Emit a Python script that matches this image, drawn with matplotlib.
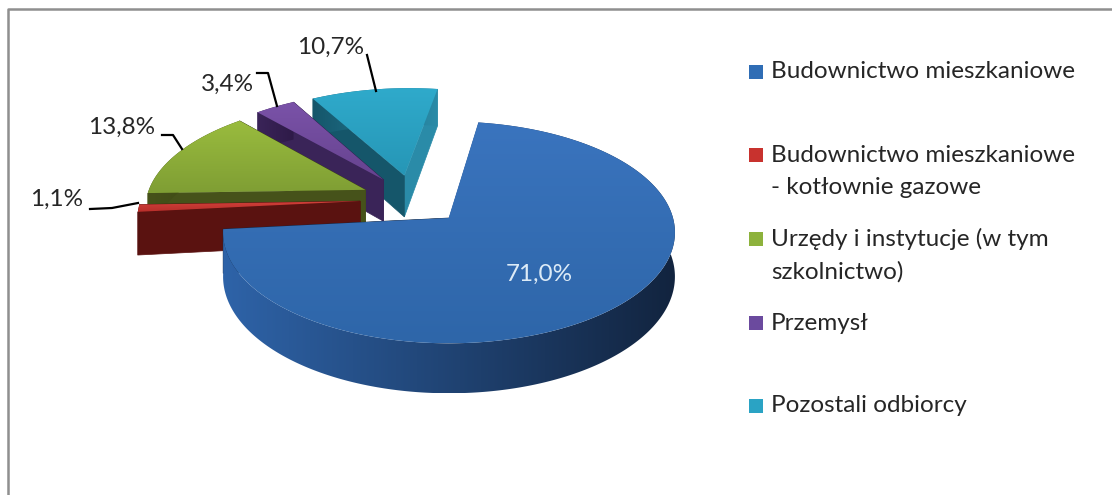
import numpy as np
import matplotlib
matplotlib.use("Agg")
import matplotlib.pyplot as plt
from matplotlib.colors import to_rgb
from matplotlib.patches import Polygon

categories = ["Budownictwo mieszkaniowe", "Budownictwo mieszkaniowe\n- kotłownie gazowe",
              "Urzędy i instytucje (w tym\nszkolnictwo)", "Przemysł", "Pozostali odbiorcy"]
values = [71.0, 1.1, 13.8, 3.4, 10.7]
value_labels = ["71,0%", "1,1%", "13,8%", "3,4%", "10,7%"]

top_light = ["#3A74BE", "#D0403A", "#9ABC3E", "#7A52A8", "#2FAACB"]
top_dark = ["#2E66A9", "#B82E2A", "#7F9E34", "#66438F", "#2696B6"]
side_light = ["#2E63A8", "#5A1210", "#46521A", "#3A2458", "#15566A"]
side_dark = ["#12243F", "#4A0F0D", "#3A4412", "#2E1A48", "#2A8BA8"]
legend_colors = ["#2F6DB5", "#C8322E", "#8DB23C", "#6B4A9E", "#2AA3C4"]

# pie geometry in pixels
CX, CY = 449, 218
RX, RY = 224, 109
PERSP = 0.13
DEPTH = 43.5
START = 8.6
EXPLODE = 0.24


def project(u, v, drop=0.0):
    s = 1 / (1 + PERSP * v)
    return CX + RX * u * s, CY - RY * v * s + drop * s


def gradient_fill(pts, c0, c1, order, axis=0):
    # polygon filled with a linear gradient, axis 0 is down, axis 1 is across
    patch = Polygon(pts, closed=True, fc="none", ec="none", zorder=order)
    ax.add_patch(patch)
    c0, c1 = np.array(to_rgb(c0)), np.array(to_rgb(c1))
    ramp = np.linspace(0, 1, 128)[:, None]
    grad = (c0 + (c1 - c0) * ramp)[:, None, :]
    if axis == 1:
        grad = grad.transpose(1, 0, 2)
    xs, ys = pts[:, 0], pts[:, 1]
    im = ax.imshow(grad, extent=(xs.min(), xs.max(), ys.max(), ys.min()), aspect="auto",
                   zorder=order, interpolation="bilinear")
    im.set_clip_path(patch)


fig = plt.figure(figsize=(11.12, 4.95), dpi=100)
ax = fig.add_axes([0, 0, 1, 1])
plt.rcParams["font.family"] = ["Lato", "DejaVu Sans"]

# chart frame
ax.plot([8, 8, 1112], [495, 9, 9], color="#8F8F8F", lw=1.8, zorder=1)

# slice angles come from the values
edges = START + np.cumsum([0] + values) * 3.6
mids = (edges[:-1] + edges[1:]) / 2
dir_u = np.sin(np.radians(mids))
dir_v = np.cos(np.radians(mids))
apex_u = EXPLODE * (dir_u - dir_u[0])
apex_v = EXPLODE * (dir_v - dir_v[0])

# back slices first, the big one last
for order, i in zip([10, 20, 30, 40, 50], [4, 3, 2, 1, 0]):
    t = np.radians(np.linspace(edges[i], edges[i + 1], max(int(values[i] * 6), 12)))
    u = apex_u[i] + np.sin(t)
    v = apex_v[i] + np.cos(t)

    # radial faces, the right cut first
    for j in (-1, 0):
        x0, y0 = project(apex_u[i], apex_v[i])
        x1, y1 = project(u[j], v[j])
        x2, y2 = project(u[j], v[j], DEPTH)
        x3, y3 = project(apex_u[i], apex_v[i], DEPTH)
        color = side_dark[i] if j == -1 else side_light[i]
        ax.add_patch(Polygon([(x0, y0), (x1, y1), (x2, y2), (x3, y3)], closed=True,
                             fc=color, ec=color, lw=0.5, zorder=order))

    # outer rim, shaded from left to right
    xa, ya = project(u, v)
    xb, yb = project(u, v, DEPTH)
    rim = np.c_[np.r_[xa, xb[::-1]], np.r_[ya, yb[::-1]]]
    gradient_fill(rim, side_light[i], side_dark[i], order + 1, axis=1)

    # top surface with a soft vertical gradient
    xs, ys = project(np.r_[apex_u[i], u], np.r_[apex_v[i], v])
    gradient_fill(np.c_[xs, ys], top_light[i], top_dark[i], order + 2)

ax.set_xlim(0, 1112)
ax.set_ylim(495, 0)
ax.axis("off")

# value labels and leader lines
label_xy = [(539, 274), (57, 199), (122, 127), (227, 84), (331, 47)]
leaders = [None,
           [(90, 209), (112, 208), (138, 203)],
           [(162, 135), (173, 135), (182, 149)],
           [(257, 73), (268, 73), (277, 106)],
           [(367, 55), (376, 91)]]
for i, lab in enumerate(value_labels):
    col = "#DCEBF7" if i == 0 else "#262626"
    ax.text(label_xy[i][0], label_xy[i][1], lab, fontsize=17.5, color=col,
            ha="center", va="center", zorder=70)
    if leaders[i]:
        ax.plot(*zip(*leaders[i]), color="black", lw=1.6, zorder=60)

# legend
legend_y = [72, 155, 239, 323, 406]
for y, name, col in zip(legend_y, categories, legend_colors):
    ax.add_patch(plt.Rectangle((749, y - 7), 14, 14, fc=col, ec="none", zorder=70))
    for n, line in enumerate(name.split("\n")):
        ax.text(771, y + n * 33, line, fontsize=17.5, color="#262626", ha="left",
                va="center", zorder=70)

fig.savefig("out.png", dpi=100)
